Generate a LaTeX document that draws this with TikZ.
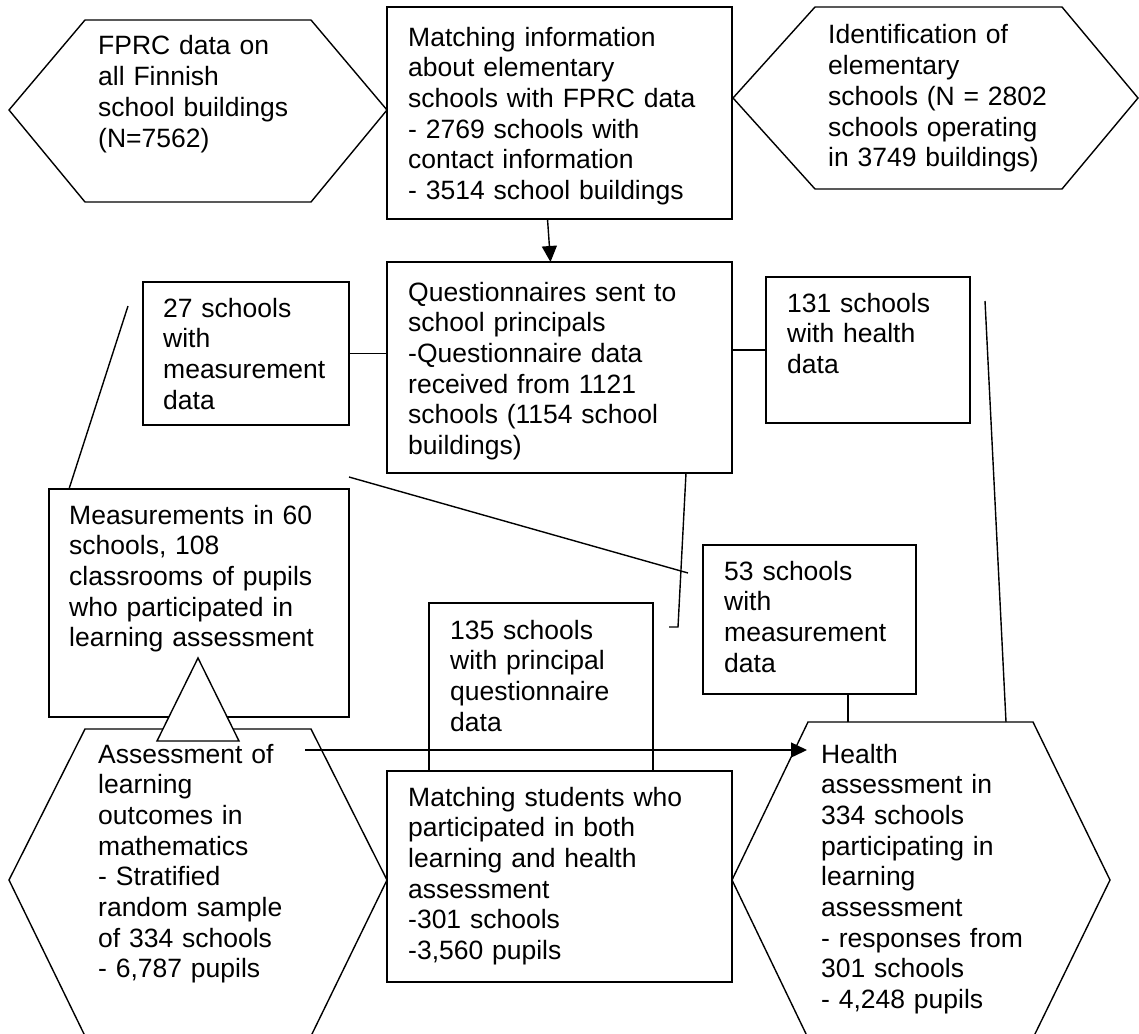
\documentclass[tikz,border=0pt]{standalone}
\usepackage{fontspec}
\setmainfont{Liberation Sans}
\usetikzlibrary{arrows.meta}

\begin{document}
\begin{tikzpicture}[
  x=1pt, y=-1pt,
  font=\fontsize{26.5}{30.7}\selectfont,
  >={Triangle[length=16pt,width=15pt]},
  frame/.style={draw=black, line width=1.4pt, inner sep=0pt, outer sep=0pt,
    anchor=north west},
  txt/.style={anchor=base west, align=left, text width=340pt, inner sep=0pt},
  link/.style={draw=black, line width=1.4pt, line join=miter},
  arrow/.style={link, ->}
]
\useasboundingbox (0,0) rectangle (1139,1033);

% rectangular boxes
\node[frame, minimum width=345pt, minimum height=212pt] (match) at (387,7) {};
\node[frame, minimum width=345pt, minimum height=211pt] (quest) at (387,262) {};
\node[frame, minimum width=206pt, minimum height=143pt] (meas27) at (143,282) {};
\node[frame, minimum width=204pt, minimum height=146pt] (health131) at (766,277) {};
\node[frame, minimum width=300pt, minimum height=228pt] (meas60) at (49,489) {};
\node[frame, minimum width=213pt, minimum height=149pt] (meas53) at (703,545) {};
\node[frame, minimum width=224pt, minimum height=168pt] (quest135) at (429,603) {};
\node[frame, minimum width=345pt, minimum height=211pt] (matchstud) at (387,771) {};

% hexagons
\draw[link] (9,110) -- (85,20) -- (311,20) -- (387,110) -- (311,202) -- (85,202) -- cycle;
\draw[link] (733,98) -- (815,7) -- (1062,7) -- (1138,98) -- (1062,189) -- (815,189) -- cycle;
\draw[link] (9,880) -- (85,729) -- (311,729) -- (387,880) -- (311,1036) -- (85,1036) -- cycle;
\draw[link] (732,880) -- (808,722) -- (1033,722) -- (1110,880) -- (1033,1038) -- (808,1038) -- cycle;

% texts
\node[txt] (fprctxt) at (98,55)
  {FPRC data on\\all Finnish\\school buildings\\(N=7562)};
\node[txt] (matchtxt) at ([xshift=21pt,yshift=-39pt]match.north west)
  {Matching information\\about elementary\\schools with FPRC data\\- 2769 schools with\\contact information\\- 3514 school buildings};
\node[txt] (identtxt) at (828,44)
  {Identification of\\elementary\\schools (N = 2802\\schools operating\\in 3749 buildings)};
\node[txt] (questtxt) at ([xshift=21pt,yshift=-39pt]quest.north west)
  {Questionnaires sent to\\school principals\\-Questionnaire data\\received from 1121\\schools (1154 school\\buildings)};
\node[txt] (meas27txt) at ([xshift=20pt,yshift=-35pt]meas27.north west)
  {27 schools\\with\\measurement\\data};
\node[txt] (health131txt) at ([xshift=21pt,yshift=-35pt]health131.north west)
  {131 schools\\with health\\data};
\node[txt] (meas60txt) at ([xshift=20pt,yshift=-35pt]meas60.north west)
  {Measurements in 60\\schools, 108\\classrooms of pupils\\who participated in\\learning assessment};
\node[txt] (meas53txt) at ([xshift=21pt,yshift=-35pt]meas53.north west)
  {53 schools\\with\\measurement\\data};
\node[txt] (quest135txt) at ([xshift=21pt,yshift=-36pt]quest135.north west)
  {135 schools\\with principal\\questionnaire\\data};
\node[txt] (assesstxt) at (98,763)
  {Assessment of\\learning\\outcomes in\\mathematics\\- Stratified\\random sample\\of 334 schools\\- 6,787 pupils};
\node[txt] (matchstudtxt) at ([xshift=21pt,yshift=-35pt]matchstud.north west)
  {Matching students who\\participated in both\\learning and health\\assessment\\-301 schools\\-3,560 pupils};
\node[txt] (healthtxt) at (821,763)
  {Health\\assessment in\\334 schools\\participating in\\learning\\assessment\\- responses from\\301 schools\\- 4,248 pupils};

% free ends and points on the hexagons
\coordinate (lfree) at (128,306);
\coordinate (dstart) at (349,477);
\coordinate (dend) at (688,573);
\coordinate (qhook) at (678,627);
\coordinate (qend) at (669,627);
\coordinate (rfree) at (985,301);
\coordinate (htop) at (1006,722);
\coordinate (htop53) at (848,722);
\coordinate (astart) at (305,750);
\coordinate (hin) at (807,750);

% connectors
\draw[arrow] ([xshift=-12pt]match.south) -- ([xshift=-9pt]quest.north);
\draw[link] (meas27.east) -- (meas27.east -| quest.west);
\draw[link] (health131.west) -- (health131.west -| quest.east);
\draw[link] (lfree) -- ([xshift=20pt]meas60.north west);
\draw[link] (dstart) -- (dend);
\draw[link] ([xshift=-46pt]quest.south east) -- (qhook) -- (qend);
\draw[link] (meas53.south -| htop53) -- (htop53);
\draw[link] (rfree) -- (htop);
\draw[arrow] (astart) -- (hin);

% triangle over the measurement box
\draw[link, fill=white] (198,658) -- (239,741) -- (157,741) -- cycle;

\end{tikzpicture}
\end{document}
